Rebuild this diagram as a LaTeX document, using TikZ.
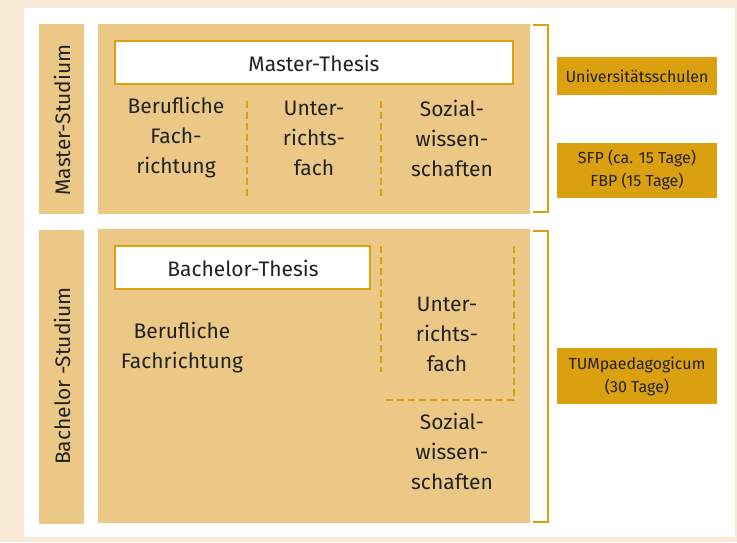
\documentclass[tikz,border=0pt]{standalone}
\usepackage{fontspec}
\setmainfont{Fira Sans}
\definecolor{cream}{HTML}{F8EAD7}
\definecolor{sand}{HTML}{ECC886}
\definecolor{gold}{HTML}{DBA00F}
\definecolor{ink}{HTML}{222222}
\tikzset{
  studybox/.style={fill=sand, draw=none},
  thesisbox/.style={fill=white, draw=gold, line width=2.5pt},
  divider/.style={gold, line width=2.5pt, dash pattern=on 7pt off 4pt},
  bracket/.style={gold, line width=2pt},
  subject/.style={align=center, text=ink, font=\fontsize{21}{30}\selectfont},
  phasebox/.style={fill=gold, minimum width=160pt, align=center, text=ink, font=\fontsize{16}{23}\selectfont},
}
\begin{document}
\begin{tikzpicture}[x=1pt,y=-1pt]
		\fill[cream] (0,0) rectangle (737,542);
		\fill[white] (24,8) rectangle (735,537);
		% Master
		\fill[studybox] (39,24) rectangle (84,214);
		\fill[studybox] (98,24) rectangle (530,214);
		\draw[thesisbox] (115,41) rectangle (513,84);
		\node[subject] (mthesis) at (314,63) {Master-Thesis};
		\node[subject, rotate=90] (mstud) at (62,120) {Master-Studium};
		\draw[divider] (247,101) -- (247,200);
		\draw[divider] (381,101) -- (381,200);
		\node[subject] (mfach) at (176,138) {Berufliche\\Fach-\\richtung};
		\node[subject] (munt) at (314,138) {Unter-\\richts-\\fach};
		\node[subject] (msoz) at (452,138) {Sozial-\\wissen-\\schaften};
		\draw[bracket] (533,25) -- (548,25) -- (548,212) -- (533,212);
		\node[phasebox, minimum height=38pt] (unis) at (637,76) {Universitätsschulen};
		\node[phasebox, minimum height=55pt] (sfp) at (637,170) {SFP (ca. 15 Tage)\\FBP (15 Tage)};
		% Bachelor
		\fill[studybox] (39,230) rectangle (84,524);
		\fill[studybox] (98,229) rectangle (530,523);
		\draw[thesisbox] (115,246) rectangle (370,289);
		\node[subject] (bthesis) at (243,268) {Bachelor-Thesis};
		\node[subject, rotate=90] (bstud) at (62,376) {Bachelor -Studium};
		\draw[divider] (381,246) -- (381,372);
		\draw[divider] (514,246) -- (514,400) -- (383,400);
		\node[subject] (bfach) at (182,348) {Berufliche\\Fachrichtung};
		\node[subject] (bunt) at (447,334) {Unter-\\richts-\\fach};
		\node[subject] (bsoz) at (452,451) {Sozial-\\wissen-\\schaften};
		\draw[bracket] (533,231) -- (548,231) -- (548,522) -- (533,522);
		\node[phasebox, minimum height=56pt] (tum) at (637,376) {TUMpaedagogicum\\(30 Tage)};
		\end{tikzpicture}
\end{document}
